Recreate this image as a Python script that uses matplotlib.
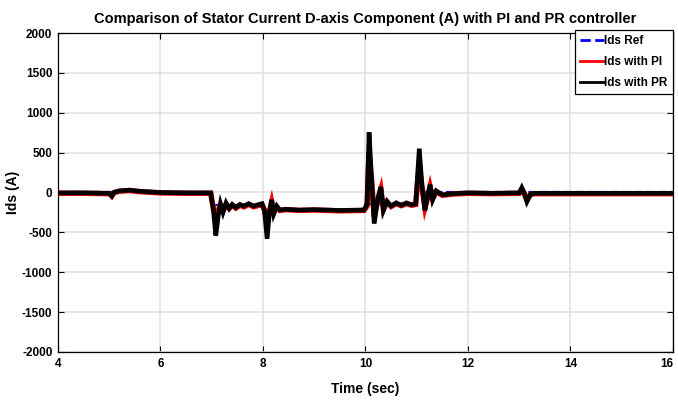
import matplotlib
matplotlib.use("Agg")
import matplotlib.pyplot as plt
from matplotlib import font_manager

# Pick a condensed sans font if one is available
_names = {f.name for f in font_manager.fontManager.ttflist}
FAMILY = [n for n in ["Liberation Sans Narrow", "Liberation Sans", "DejaVu Sans"] if n in _names]
plt.rcParams["font.family"] = FAMILY
plt.rcParams["font.weight"] = "bold"
plt.rcParams["axes.unicode_minus"] = False

# d-axis stator current with the PR controller (time in s, current in A)
t_pr = [4.0, 4.5, 5.0, 5.05, 5.1, 5.2, 5.4, 5.6, 6.0, 6.5, 6.98,
        7.03, 7.08, 7.13, 7.17, 7.22, 7.28, 7.34, 7.40, 7.47, 7.55, 7.63, 7.72, 7.82, 7.92, 7.98,
        8.03, 8.08, 8.13, 8.17, 8.21, 8.27, 8.33, 8.45, 8.7, 9.0, 9.5, 9.97,
        10.03, 10.07, 10.12, 10.17, 10.24, 10.30, 10.35, 10.42, 10.5, 10.6, 10.7, 10.8, 10.9, 10.98,
        11.05, 11.10, 11.16, 11.21, 11.26, 11.31, 11.38, 11.5, 11.7, 12.0, 12.5,
        13.0, 13.05, 13.1, 13.15, 13.22, 13.3, 13.6, 14.0, 15.0, 16.0]
ids_pr = [-5, -5, -10, -45, 5, 20, 30, 15, 0, -5, -5,
          -200, -540, -280, -140, -250, -130, -200, -150, -190, -150, -170, -140, -170, -150, -140,
          -230, -580, -230, -90, -270, -170, -220, -210, -220, -215, -225, -220,
          -150, 755, 150, -390, -80, 70, -225, -110, -170, -130, -160, -130, -155, -140,
          550, 100, -225, -60, 100, -90, 20, -30, -15, -5, -10,
          -5, 60, -10, -115, -20, -10, -10, -10, -10, -10]

# Same current with the PI controller
t_pi = t_pr
ids_pi = [-10, -10, -15, -45, 0, 15, 25, 10, -5, -10, -10,
          -200, -330, -220, -160, -230, -150, -200, -160, -195, -160, -180, -150, -180, -160, -150,
          -220, -370, -230, -120, -250, -190, -225, -215, -225, -220, -230, -225,
          -170, 505, 150, -300, -90, 40, -210, -120, -175, -140, -165, -140, -160, -150,
          350, 80, -190, -70, 70, -80, 10, -35, -20, -10, -15,
          -10, 40, -15, -95, -25, -15, -15, -15, -15, -15]

# d-axis current reference
t_ref = [4.0, 7.0, 7.0, 8.0, 8.0, 10.0, 10.0, 11.0, 11.0, 16.0]
ids_ref = [0, 0, -160, -160, -220, -220, -140, -140, 0, 0]

fig = plt.figure(figsize=(6.78, 4.03), dpi=100)
ax = fig.add_axes([0.0855, 0.1266, 0.9071, 0.7915])

ax.plot(t_ref, ids_ref, color="#0000ff", lw=1.6, ls="--", zorder=2, label="Ids Ref")
ax.plot(t_pi, ids_pi, color="#ff0000", lw=3.9, zorder=3, label="Ids with PI",
        solid_joinstyle="miter")
ax.plot(t_pr, ids_pr, color="black", lw=3.3, zorder=4, label="Ids with PR",
        solid_joinstyle="miter")

ax.set_xlim(4, 16)
ax.set_ylim(-2000, 2000)
ax.set_xticks([4, 6, 8, 10, 12, 14, 16])
ax.set_yticks(list(range(-2000, 2001, 500)))
ax.grid(True, color="#e3e3e3", lw=1.2)
ax.set_axisbelow(True)
ax.tick_params(direction="in", top=True, right=True, length=4, width=0.8,
               labelsize=8.5, pad=4)
for lbl in ax.get_xticklabels() + ax.get_yticklabels():
    lbl.set_fontweight("bold")
ax.get_xticklabels()[-1].set_horizontalalignment("right")
ax.get_xticklabels()[-1].set_x(16.0)
for sp in ax.spines.values():
    sp.set_linewidth(0.9)
    sp.set_color("black")

ax.set_title("Comparison of Stator Current D-axis Component (A) with PI and PR controller",
             fontsize=10.5, fontweight="bold", pad=7)
ax.set_xlabel("Time (sec)", fontsize=10, fontweight="bold", labelpad=9)
ax.set_ylabel("Ids (A)", fontsize=10, fontweight="bold", labelpad=4)
ax.yaxis.set_label_coords(-0.062, 0.5)

leg = ax.legend(loc="upper right", bbox_to_anchor=(1.0, 1.01), fontsize=8.5,
                frameon=True, fancybox=False, edgecolor="black", framealpha=1,
                borderpad=0.45, handlelength=2.0, handletextpad=0.05, labelspacing=0.75,
                borderaxespad=0)
leg.get_frame().set_linewidth(0.9)
for h in leg.get_lines():
    h.set_linewidth(2.0)
for txt in leg.get_texts():
    txt.set_fontweight("bold")

fig.savefig("out.png", dpi=100)
